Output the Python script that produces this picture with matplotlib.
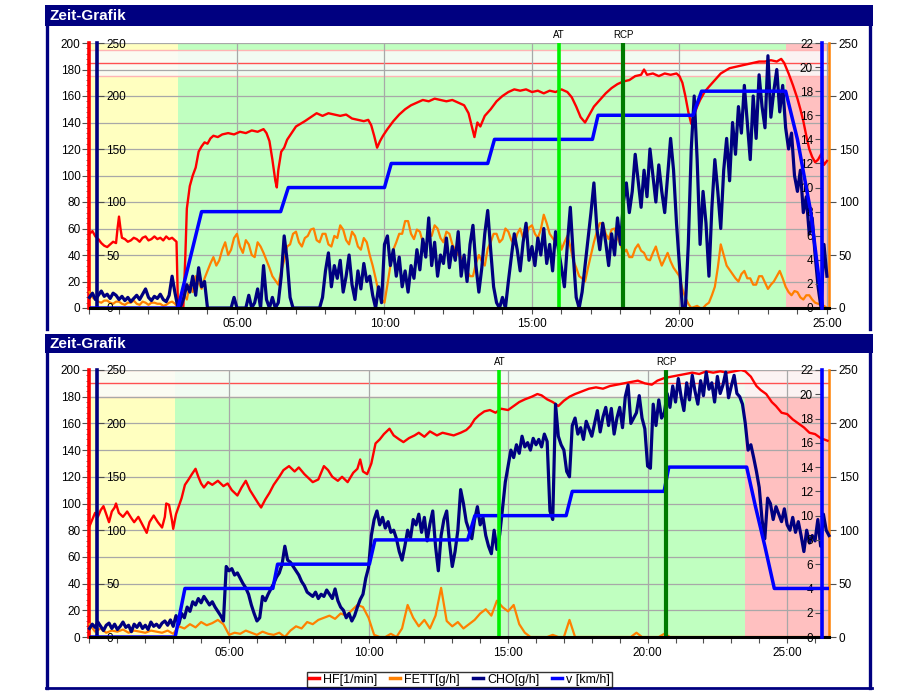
import numpy as np
import matplotlib
matplotlib.use('Agg')
import matplotlib.pyplot as plt
from matplotlib.lines import Line2D
from matplotlib.patches import Rectangle
from matplotlib.ticker import MultipleLocator, FixedLocator

plt.rcParams['font.family'] = ['Liberation Sans', 'DejaVu Sans']

# ---------------- top panel data ----------------
top_end = 25.07
top_zones = [(0, 3.0, '#ffffc0'), (3.0, 23.6, '#c0ffc0'), (23.6, 25.07, '#ffc0c0')]
top_band = (175, 185, 195)
top_at, top_rcp = 15.9, 18.09

top_hf_t = [0.0, 0.1, 0.2, 0.3, 0.4, 0.5, 0.6, 0.7, 0.8, 0.9, 0.95, 1.0, 1.05, 1.1, 1.2, 1.3, 1.4, 1.5, 1.6, 1.7,
            1.8, 1.9, 2.0, 2.1, 2.2, 2.3, 2.4, 2.5, 2.6, 2.7, 2.8, 2.9, 2.95, 3.0, 3.18, 3.25, 3.3, 3.4, 3.5, 3.6,
            3.7, 3.8, 3.9, 4.0, 4.1, 4.2, 4.35, 4.5, 4.7, 4.9, 5.1, 5.3, 5.5, 5.7, 5.9, 6.0, 6.1, 6.2, 6.3, 6.35,
            6.4, 6.5, 6.6, 6.7, 6.85, 7.0, 7.15, 7.3, 7.5, 7.7, 7.9, 8.1, 8.3, 8.5, 8.7, 8.9, 9.1, 9.3, 9.45, 9.55,
            9.65, 9.75, 9.85, 9.95, 10.1, 10.3, 10.5, 10.7, 10.9, 11.1, 11.3, 11.5, 11.7, 11.9, 12.1, 12.3, 12.5,
            12.7, 12.85, 12.95, 13.05, 13.15, 13.25, 13.4, 13.6, 13.8, 14.0, 14.2, 14.4, 14.6, 14.8, 15.0, 15.2,
            15.4, 15.6, 15.8, 16.0, 16.2, 16.35, 16.5, 16.65, 16.8, 16.95, 17.1, 17.3, 17.5, 17.7, 17.9, 18.1,
            18.3, 18.5, 18.7, 18.8, 18.9, 19.1, 19.3, 19.5, 19.7, 19.9, 20.0, 20.1, 20.2, 20.3, 20.4, 20.5, 20.6,
            20.7, 20.85, 21.0, 21.2, 21.4, 21.55, 21.7, 21.9, 22.1, 22.3, 22.5, 22.7, 22.9, 23.1, 23.3, 23.45,
            23.55, 23.7, 23.85, 24.0, 24.1, 24.2, 24.3, 24.4, 24.5, 24.6, 24.7, 24.8, 24.9, 25.0]
top_hf = [56, 58, 54, 52, 49, 47, 46, 48, 50, 49, 60, 69, 60, 53, 52, 50, 51, 53, 52, 50,
          53, 54, 51, 52, 54, 52, 53, 51, 54, 52, 53, 51, 50, 0, 0, 40, 75, 92, 100, 106,
          118, 122, 125, 124, 128, 130, 129, 131, 132, 131, 133, 132, 134, 133, 135, 132, 126, 112, 96, 91,
          104, 118, 121, 127, 132, 137, 139, 141, 144, 147, 145, 147, 146, 145, 146, 143, 142, 141, 142, 138,
          130, 121, 126, 130, 135, 141, 146, 150, 153, 155, 157, 156, 158, 157, 156, 157, 155,
          153, 147, 138, 129, 140, 137, 145, 150, 156, 160, 163, 165, 164, 165, 163, 164,
          162, 164, 163, 165, 163, 159, 152, 144, 140, 146, 152, 157, 162, 166, 169, 171,
          172, 175, 176, 180, 176, 177, 175, 177, 176, 177, 175, 170, 160, 148, 139, 146, 152,
          157, 163, 167, 172, 177, 179, 181, 182, 183, 184, 185, 186, 186, 187, 186, 188,
          185, 177, 168, 158, 150, 141, 130, 120, 114, 110, 112, 116, 108, 111]

# FETT every 0.1 min
top_fett = [15, 10, 8, 6, 5, 7, 7, 5, 4, 6,
            6, 4, 3, 5, 5, 7, 4, 3, 6, 5,
            3, 5, 5, 4, 4, 2, 3, 5, 6, 4,
            0, 4, 12, 8, 22, 15, 30, 24, 18, 28,
            35, 42, 48, 40, 45, 55, 62, 50, 55, 66,
            70, 58, 52, 64, 60, 50, 48, 62, 58, 52,
            45, 38, 30, 26, 22, 35, 45, 58, 60, 70,
            72, 62, 58, 66, 68, 74, 75, 64, 62, 70,
            70, 60, 58, 68, 66, 78, 74, 64, 60, 72,
            68, 58, 55, 66, 62, 50, 40, 28, 15, 8,
            5, 22, 40, 55, 62, 70, 70, 82, 82, 70,
            65, 74, 72, 62, 58, 70, 68, 78, 75, 66,
            62, 72, 70, 60, 55, 50, 48, 40, 35, 30,
            30, 42, 50, 44, 40, 56, 62, 70, 70, 62,
            65, 75, 72, 64, 60, 70, 75, 66, 68, 76,
            78, 70, 66, 74, 88, 80, 70, 66, 62, 70,
            55, 62, 68, 58, 45, 38, 30, 28, 25, 38,
            50, 62, 72, 80, 80, 70, 65, 74, 75, 66,
            60, 52, 55, 48, 48, 56, 60, 54, 52, 46,
            45, 52, 58, 48, 40, 46, 52, 44, 38, 34,
            30, 18, 10, 4, 0, 1, 2, 0, 0, 3,
            5, 12, 20, 38, 60, 50, 40, 36, 32, 28,
            25, 32, 35, 28, 28, 22, 22, 30, 30, 24,
            18, 22, 25, 30, 35, 28, 20, 15, 12, 16,
            15, 10, 8, 12, 12, 8, 5, 4, 3, 2,
            0]

# CHO every 0.1 min
top_cho = [10, 14, 8, 12, 16, 11, 13, 9, 14, 12,
           8, 11, 7, 10, 6, 9, 12, 8, 13, 18,
           10, 7, 11, 9, 13, 8, 6, 12, 30, 14,
           0, 2, 10, 22, 15, 30, 12, 38, 20, 25,
           0, 0, 0, 0, 0, 0, 0, 0, 0, 10,
           0, 0, 0, 0, 12, 0, 5, 18, 0, 40,
           8, 0, 10, 0, 5, 30, 68, 45, 10, 0,
           0, 0, 0, 0, 0, 0, 0, 0, 0, 10,
           35, 52, 20, 40, 28, 45, 15, 30, 50, 22,
           8, 35, 18, 42, 25, 30, 12, 0, 20, 5,
           60, 68, 40, 55, 30, 48, 20, 35, 15, 40,
           28, 55, 36, 65, 48, 85, 40, 62, 30, 50,
           42, 66, 38, 58, 45, 72, 30, 50, 25, 60,
           78, 40, 15, 38, 70, 92, 55, 20, 5, 0,
           10, 0, 25, 48, 70, 55, 35, 62, 80, 45,
           58, 40, 66, 50, 75, 42, 60, 35, 72, 55,
           38, 20, 60, 95, 50, 10, 0, 15, 40, 65,
           90, 118, 75, 55, 80, 62, 40, 70, 50, 85,
           60, 100, 118, 90, 110, 145, 120, 95, 130, 105,
           150, 125, 100, 135, 110, 90, 125, 160, 130, 80,
           40, 0, 0, 60, 150, 200, 140, 60, 110, 80,
           30, 95, 140, 110, 75, 130, 160, 120, 175, 145,
           190, 165, 210, 175, 140, 200, 160, 220, 190, 170,
           238, 180, 205, 225, 185, 210, 170, 150, 165, 125,
           110, 130, 90, 105, 70, 85, 50, 20, 0, 60,
           30]

top_v_t = [0, 3.0, 3.8, 6.48, 6.74, 10.0, 10.23, 13.5, 13.73, 17.05, 17.24, 20.46, 20.75, 23.6, 24.0, 24.45, 24.85]
top_v = [0, 0, 8, 8, 10, 10, 12, 12, 14, 14, 16, 16, 18, 18, 14, 8, 0]

# ---------------- bottom panel data ----------------
bot_end = 26.5
bot_zones = [(0, 3.06, '#ffffc0'), (3.06, 23.5, '#c0ffc0'), (23.5, 26.5, '#ffc0c0')]
bot_band = (180, 190, 200)
bot_at, bot_rcp = 14.69, 20.66

bot_hf_t = [0.0, 0.1, 0.2, 0.3, 0.4, 0.5, 0.6, 0.7, 0.8, 0.9, 0.95, 1.05, 1.2, 1.35, 1.5, 1.6, 1.75, 1.9, 2.0,
            2.05, 2.15, 2.3, 2.45, 2.6, 2.7, 2.75, 2.85, 2.95, 3.0, 3.1, 3.2, 3.3, 3.42, 3.55, 3.67, 3.8, 3.9,
            4.0, 4.1, 4.25, 4.4, 4.6, 4.8, 4.95, 5.1, 5.3, 5.45, 5.6, 5.75, 5.9, 6.05, 6.15, 6.3, 6.45, 6.6,
            6.8, 6.95, 7.15, 7.35, 7.5, 7.7, 7.85, 8.0, 8.2, 8.4, 8.55, 8.7, 8.9, 9.05, 9.25, 9.45, 9.6, 9.7,
            9.8, 9.95, 10.1, 10.25, 10.4, 10.55, 10.75, 10.9, 11.1, 11.25, 11.45, 11.65, 11.8, 12.0, 12.2,
            12.45, 12.65, 12.85, 13.05, 13.3, 13.5, 13.65, 13.8, 13.95, 14.15, 14.35, 14.55, 14.75, 15.0,
            15.2, 15.4, 15.6, 15.85, 16.05, 16.2, 16.4, 16.6, 16.8, 17.0, 17.2, 17.4, 17.65, 17.9, 18.15,
            18.4, 18.65, 18.9, 19.15, 19.4, 19.65, 19.9, 20.15, 20.35, 20.6, 20.85, 21.1, 21.35, 21.6, 21.85,
            22.1, 22.35, 22.6, 22.85, 23.1, 23.35, 23.5, 23.7, 23.9, 24.05, 24.25, 24.45, 24.6, 24.8, 25.0,
            25.2, 25.4, 25.6, 25.8, 26.0, 26.2, 26.45]
bot_hf = [83, 88, 93, 90, 95, 98, 92, 86, 94, 97, 100, 93, 90, 94, 89, 86, 90, 84, 80,
          78, 86, 91, 86, 82, 90, 100, 99, 88, 81, 92, 98, 104, 114, 118, 122, 126, 120,
          115, 112, 116, 114, 117, 113, 115, 110, 106, 112, 117, 110, 105, 100, 97, 103, 108, 114,
          120, 125, 128, 124, 127, 122, 119, 116, 118, 128, 125, 120, 117, 120, 116, 123, 126, 133,
          124, 122, 130, 145, 148, 152, 156, 151, 148, 146, 149, 151, 153, 150, 154,
          151, 153, 152, 151, 153, 155, 158, 163, 166, 169, 170, 168, 171, 170,
          173, 176, 178, 180, 182, 181, 178, 176, 173, 177, 180, 182, 184, 186, 187,
          186, 188, 189, 190, 191, 192, 190, 189, 192, 194, 195, 196, 197, 198, 197,
          199, 198, 199, 198, 199, 200, 199, 195, 188, 185, 182, 176, 173, 168, 167,
          163, 160, 157, 153, 152, 149, 147]

# FETT every 0.2 min
bot_fett = [12, 5, 8, 4, 6, 5, 7, 4, 6, 5,
            4, 6, 5, 4, 6, 3, 10, 8, 12, 9,
            14, 11, 13, 16, 12, 2, 4, 3, 6, 4,
            2, 5, 3, 2, 4, 0, 6, 10, 8, 14,
            12, 16, 18, 20, 17, 22, 20, 25, 30, 28,
            18, 2, 0, 0, 3, 0, 8, 30, 18, 10,
            16, 8, 20, 46, 15, 10, 14, 8, 12, 16,
            22, 26, 20, 34, 28, 24, 30, 12, 4, 0,
            0, 0, 0, 2, 0, 0, 16, 0, 0, 0,
            0, 0, 0, 0, 0, 0, 0, 0, 4, 0,
            0, 0, 0, 3, 0, 0, 0, 0, 0, 0,
            0, 0, 0, 0, 0, 0, 0, 0, 0, 0,
            0, 0, 0, 0, 0, 0, 0, 0, 0, 0,
            0, 0, 0]

# CHO every 0.1 min
bot_cho = [8, 12, 9, 14, 10, 6, 11, 13, 8, 12,
           7, 10, 14, 9, 11, 5, 12, 9, 13, 8,
           11, 7, 14, 10, 12, 9, 13, 15, 11, 16,
           10, 20, 12, 22, 18, 28, 24, 33, 30, 36,
           32, 38, 34, 30, 33, 28, 24, 20, 15, 66,
           62, 64, 58, 60, 55, 50, 46, 40, 30, 22,
           15, 18, 38, 34, 40, 45, 50, 56, 60, 68,
           85, 72, 70, 66, 62, 58, 52, 48, 42, 40,
           38, 42, 36, 40, 38, 44, 40, 36, 45, 34,
           28, 25, 18, 22, 15, 20, 28, 35, 40, 55,
           65, 95, 110, 118, 105, 112, 102, 108, 98, 100,
           92, 80, 72, 85, 100, 92, 110, 105, 115, 98,
           112, 90, 106, 118, 85, 62, 95, 110, 118, 88,
           66, 80, 100, 138, 125, 108, 100, 92, 110, 122,
           105, 112, 95, 85, 78, 100, 82, 96, 120, 145,
           160, 175, 168, 180, 172, 188, 178, 182, 175, 186,
           180, 185, 178, 190, 183, 118, 110, 218, 188, 180,
           175, 155, 150, 198, 205, 190, 196, 185, 202, 195,
           188, 200, 212, 192, 206, 215, 198, 214, 190, 205,
           215, 196, 225, 236, 200, 205, 210, 226, 205, 195,
           160, 158, 218, 198, 222, 205, 210, 228, 215, 235,
           220, 242, 225, 212, 238, 222, 245, 230, 218, 240,
           226, 248, 232, 238, 220, 244, 228, 236, 248, 224,
           235, 245, 228, 225, 218, 200, 175, 180, 168, 155,
           140, 110, 92, 130, 125, 110, 122, 115, 108, 120,
           105, 100, 112, 98, 108, 95, 80, 100, 88, 95,
           90, 110, 85, 115, 100, 95]

bot_v_t = [0, 3.07, 3.42, 6.57, 6.74, 10.03, 10.23, 13.55, 13.81, 17.08, 17.3, 20.59, 20.76, 23.55, 23.86, 24.2, 24.54, 26.45]
bot_v = [0, 0, 4, 4, 6, 6, 8, 8, 10, 10, 12, 12, 14, 14, 10.8, 7.5, 4, 4]

NAVY = '#000080'
RED = '#ff0000'
ORANGE = '#ff8000'
BLUE = '#0000ff'

W, H = 920, 691
fig = plt.figure(figsize=(9.2, 6.91), dpi=100)


def fx(px):
    return px / W


def fy(py):
    return 1 - py / H


def frame(y_bar0, y_bar1, y_end, bottom_line):
    fig.add_artist(Rectangle((fx(45), fy(y_bar1)), fx(873) - fx(45), fy(y_bar0) - fy(y_bar1),
                             transform=fig.transFigure, color=NAVY, lw=0))
    fig.text(fx(50), fy((y_bar0 + y_bar1) / 2 + 0.5), 'Zeit-Grafik', color='white', fontsize=11,
             fontweight='bold', va='center', ha='left')
    for x in (47.5, 870.5):
        fig.add_artist(Line2D([fx(x), fx(x)], [fy(y_bar1), fy(y_end)], transform=fig.transFigure,
                              color=NAVY, lw=2.4))
    if bottom_line:
        fig.add_artist(Line2D([fx(46), fx(872)], [fy(y_end), fy(y_end)], transform=fig.transFigure,
                              color=NAVY, lw=2.0))


def panel(y_top, y_bot, t_end, zones, band, at, rcp, hf_t, hf, fett, fett_dt, cho, v_t, v):
    x0, x1 = 89.5, 829
    span = x1 - x0
    ax = fig.add_axes([fx(x0), fy(y_bot), fx(x1) - fx(x0), fy(y_top) - fy(y_bot)])
    ax.set_xlim(0, t_end)
    ax.set_ylim(0, 200)
    for a, b, c in zones:
        ax.axvspan(a, b, color=c, lw=0, zorder=0)
    ax.axhspan(band[0], band[2], color='#fbfbfb', alpha=0.85, lw=0, zorder=1)
    ax.axhline(band[0], color='#ffb4b4', lw=1, zorder=2)
    ax.axhline(band[2], color='#ffb4b4', lw=1, zorder=2)
    ax.axhline(band[1], color='#ff5050', lw=1, zorder=2)
    ax.set_axisbelow(False)
    ax.grid(True, which='major', color='#a8a8a8', lw=0.9)

    ax.yaxis.set_major_locator(MultipleLocator(20))
    ax.yaxis.set_minor_locator(MultipleLocator(4))
    ax.xaxis.set_major_locator(FixedLocator([5, 10, 15, 20, 25]))
    ax.xaxis.set_minor_locator(MultipleLocator(1))
    ax.set_xticklabels(['05:00', '10:00', '15:00', '20:00', '25:00'])
    ax.tick_params(axis='y', which='major', length=5, width=0.8, color='#505050', labelsize=8.5, pad=1.5)
    ax.tick_params(axis='y', which='minor', length=2.5, width=0.6, color='#505050')
    ax.tick_params(axis='x', which='both', length=4, width=0.8, color='#505050', labelsize=8.5, pad=3)
    for s in ax.spines.values():
        s.set_visible(False)
    ax.spines['left'].set_visible(True)
    ax.spines['left'].set_color(RED)
    ax.spines['left'].set_linewidth(2.6)
    ax.spines['left'].set_zorder(4)

    af = ax.twinx()
    ah = ax.twinx()
    ac = ax.twinx()
    av = ax.twinx()
    for a in (af, ah, ac, av):
        for s in a.spines.values():
            s.set_visible(False)
    af.set_ylim(0, 250)
    ah.set_ylim(0, 200)
    ac.set_ylim(0, 250)
    av.set_ylim(0, 22)
    ah.yaxis.set_visible(False)

    af.yaxis.set_major_locator(MultipleLocator(50))
    af.spines['right'].set_visible(True)
    af.spines['right'].set_color(ORANGE)
    af.spines['right'].set_linewidth(1.8)
    af.spines['right'].set_zorder(4)
    af.tick_params(axis='y', length=5, width=0.8, color='#505050', labelsize=8.5, pad=2)

    ac.yaxis.set_major_locator(MultipleLocator(50))
    ac.spines['right'].set_visible(True)
    ac.spines['right'].set_position(('axes', (97 - x0) / span))
    ac.spines['right'].set_color(NAVY)
    ac.spines['right'].set_linewidth(2.6)
    ac.spines['right'].set_zorder(4)
    ac.tick_params(axis='y', length=5, width=0.8, color='#505050', labelsize=8.5, pad=1.5)

    av.yaxis.tick_left()
    av.yaxis.set_major_locator(MultipleLocator(2))
    av.spines['left'].set_visible(True)
    av.spines['left'].set_position(('axes', (822 - x0) / span))
    av.spines['left'].set_color(BLUE)
    av.spines['left'].set_linewidth(2.6)
    av.spines['left'].set_zorder(4)
    av.tick_params(axis='y', length=5, width=0.8, color='#505050', labelsize=8.5, pad=1.5)

    fett_t = np.arange(len(fett)) * fett_dt
    cho_t = np.arange(len(cho)) * 0.1
    l_f, = af.plot(fett_t, fett, color=ORANGE, lw=1.6, clip_on=False)
    l_h, = ah.plot(hf_t, hf, color=RED, lw=1.7)
    l_c, = ac.plot(cho_t, cho, color=NAVY, lw=2.3, clip_on=False)
    l_v, = av.plot(v_t, v, color=BLUE, lw=2.5)
    av.axvline(at, color='#00f000', lw=2.6)
    av.axvline(rcp, color='#007a00', lw=3.0)
    av.axhline(0, color='black', lw=2.2, clip_on=False)
    tr = ax.get_xaxis_transform()
    ax.text(at, 1.01, 'AT', transform=tr, ha='center', va='bottom', fontsize=7)
    ax.text(rcp, 1.01, 'RCP', transform=tr, ha='center', va='bottom', fontsize=7)
    return [l_h, l_f, l_c, l_v]


frame(5, 26, 329, False)
frame(334, 353, 688, True)
panel(43, 308, top_end, top_zones, top_band, top_at, top_rcp, top_hf_t, top_hf, top_fett, 0.1, top_cho,
      top_v_t, top_v)
lines = panel(370, 637, bot_end, bot_zones, bot_band, bot_at, bot_rcp, bot_hf_t, bot_hf, bot_fett, 0.2, bot_cho,
              bot_v_t, bot_v)

handles = [Line2D([], [], color=l.get_color(), lw=2.5) for l in lines]
leg = fig.legend(handles, ['HF[1/min]', 'FETT[g/h]', 'CHO[g/h]', 'v [km/h]'], loc='center',
                 bbox_to_anchor=(fx(459.5), fy(679.5)), ncol=4, frameon=True, fancybox=False,
                 edgecolor='black', fontsize=9, handlelength=0.8, handletextpad=0.35, columnspacing=1.0,
                 borderpad=0.15, borderaxespad=0)
leg.get_frame().set_linewidth(1.0)

fig.savefig('out.png', dpi=100)
